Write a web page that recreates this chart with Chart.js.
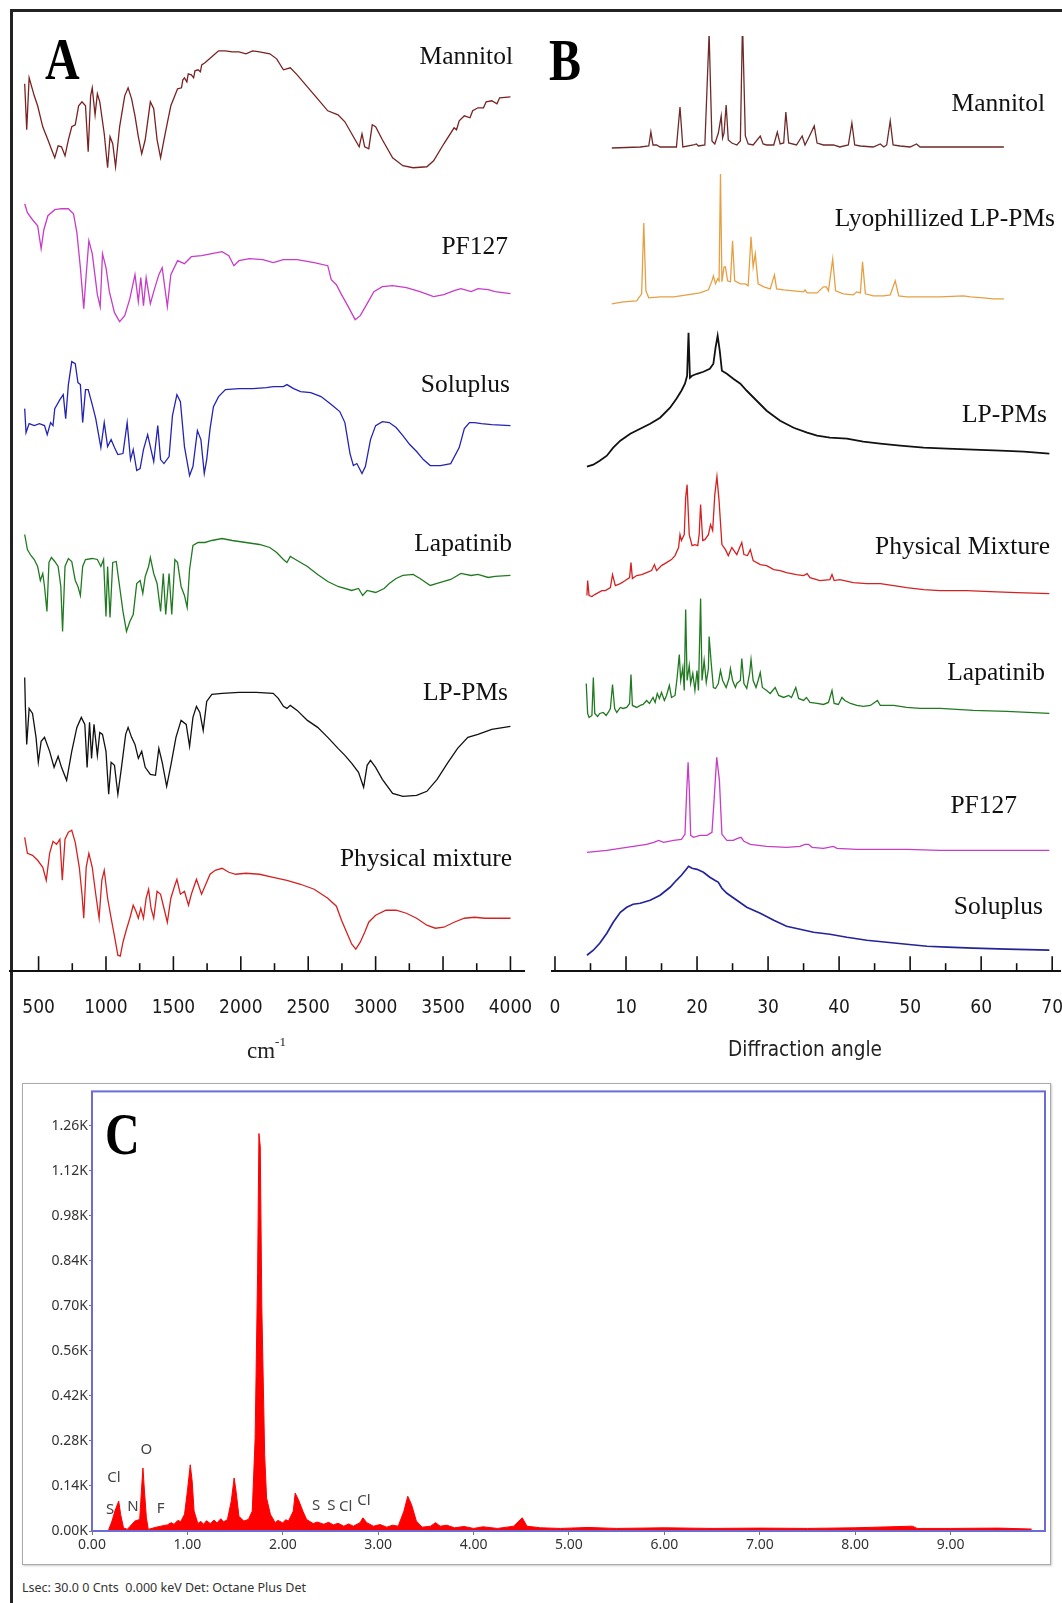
<!DOCTYPE html>
<html>
<head>
<meta charset="utf-8">
<script src="https://cdn.jsdelivr.net/npm/chart.js@4.4.0/dist/chart.umd.min.js"></script>
<style>
body { margin: 0; width: 1062px; height: 1603px; overflow: hidden; background: #fff; position: relative; }
canvas { position: absolute; }
.frame { position: absolute; left: 10px; top: 9px; width: 1062px; height: 1603px; border-top: 3px solid #222; border-left: 3px solid #222; }
.lbl { position: absolute; width: 400px; text-align: right; font-family: "Liberation Serif", serif; font-size: 25.5px; line-height: 1; color: #111; white-space: nowrap; }
.letter { position: absolute; font-family: "Liberation Serif", serif; font-weight: bold; font-size: 60px; line-height: 1; color: #000; transform: scaleX(0.8); transform-origin: left top; }
.axt { position: absolute; font-family: "DejaVu Sans Condensed", "DejaVu Sans", sans-serif; font-size: 21px; color: #222; white-space: nowrap; transform: scaleX(0.98); transform-origin: left top; }
.cm { position: absolute; font-family: "Liberation Serif", serif; font-size: 23px; color: #222; }
.cm sup { font-size: 13px; vertical-align: 12px; }
.cbox { position: absolute; left: 22px; top: 1083px; width: 1027px; height: 480px; border: 1px solid #aaa; box-shadow: 1px 1px 2px #ccc; }
.foot { position: absolute; left: 22px; top: 1579px; font-family: "Noto Sans", sans-serif; font-size: 12.5px; color: #333; white-space: pre; }
</style>
</head>
<body>
<div class="frame"></div>
<div class="cbox"></div>
<canvas id="chartA" width="578" height="1009"></canvas>
<canvas id="chartB" width="568" height="1009"></canvas>
<canvas id="chartC" width="1031" height="479"></canvas>

<div class="letter" style="left:45px;top:29px;">A</div>
<div class="letter" style="left:549px;top:30px;">B</div>
<div class="letter" style="left:105px;top:1104px;">C</div>

<div class="lbl" style="left:113px;top:43px;">Mannitol</div>
<div class="lbl" style="left:108px;top:233px;">PF127</div>
<div class="lbl" style="left:110px;top:371px;">Soluplus</div>
<div class="lbl" style="left:112px;top:530px;">Lapatinib</div>
<div class="lbl" style="left:108px;top:679px;">LP-PMs</div>
<div class="lbl" style="left:112px;top:845px;">Physical mixture</div>

<div class="lbl" style="left:645px;top:90px;">Mannitol</div>
<div class="lbl" style="left:655px;top:205px;">Lyophillized LP-PMs</div>
<div class="lbl" style="left:647px;top:401px;">LP-PMs</div>
<div class="lbl" style="left:650px;top:533px;">Physical Mixture</div>
<div class="lbl" style="left:645px;top:659px;">Lapatinib</div>
<div class="lbl" style="left:617px;top:792px;">PF127</div>
<div class="lbl" style="left:643px;top:893px;">Soluplus</div>

<div class="cm" style="left:247px;top:1034px;">cm<sup>-1</sup></div>
<div class="axt" style="left:728px;top:1037px;">Diffraction angle</div>
<div class="foot">Lsec: 30.0 0 Cnts  0.000 keV Det: Octane Plus Det</div>

<script>
// ---- FTIR spectra (panel A): [wavenumber cm-1, relative transmittance a.u.]
const irMannitol = [[397,84],[412,38],[430,90],[468,72],[493,62],[531,41],[569,28],[594,19],[620,10],[645,22],[670,21],[696,12],[721,28],[746,41],[772,43],[797,62],[822,66],[848,62],[868,16],[886,72],[898,80],[919,53],[936,74],[954,66],[987,34],[1012,0],[1030,31],[1050,24],[1071,1],[1101,41],[1139,72],[1164,80],[1190,69],[1215,52],[1240,31],[1265,14],[1291,28],[1329,66],[1354,59],[1379,28],[1405,10],[1430,28],[1455,45],[1481,62],[1531,79],[1560,80],[1570,88],[1582,90],[1600,86],[1610,94],[1633,93],[1650,90],[1660,97],[1683,98],[1700,96],[1710,103],[1734,105],[1785,111],[1835,117],[1886,117],[1936,116],[1987,116],[2038,114],[2088,117],[2139,116],[2215,114],[2266,109],[2316,98],[2367,100],[2418,93],[2494,81],[2570,69],[2645,57],[2721,53],[2772,46],[2848,28],[2878,21],[2899,34],[2919,21],[2949,19],[2975,43],[3000,41],[3050,28],[3126,10],[3202,2],[3278,0],[3380,1],[3430,7],[3506,24],[3582,40],[3600,38],[3620,47],[3658,52],[3700,50],[3720,57],[3759,60],[3800,60],[3820,66],[3861,67],[3900,64],[3920,70],[4000,71]];
const irPF127 = [[397,119],[417,110],[455,103],[493,97],[519,74],[539,93],[569,107],[620,113],[670,114],[721,114],[759,109],[784,90],[810,55],[835,14],[853,48],[873,82],[898,69],[936,28],[957,16],[974,69],[1000,55],[1025,31],[1063,10],[1101,1],[1139,7],[1177,24],[1215,48],[1240,21],[1258,45],[1278,17],[1298,45],[1329,19],[1354,31],[1392,48],[1417,55],[1455,16],[1481,48],[1531,62],[1582,59],[1633,66],[1709,67],[1785,69],[1861,71],[1911,67],[1949,57],[1987,62],[2063,64],[2164,63],[2240,60],[2316,63],[2418,63],[2544,60],[2645,57],[2671,43],[2709,38],[2747,28],[2797,16],[2848,3],[2886,7],[2937,19],[2987,31],[3050,36],[3126,37],[3228,35],[3329,31],[3430,26],[3506,28],[3582,32],[3633,34],[3709,31],[3759,34],[3835,33],[3886,31],[4000,29]];
const irSoluplus = [[397,67],[407,43],[430,52],[468,50],[506,52],[544,50],[564,41],[589,53],[607,50],[620,67],[658,76],[683,81],[701,57],[721,91],[746,114],[772,112],[792,93],[810,91],[827,53],[848,86],[868,86],[898,71],[924,57],[962,28],[987,53],[1012,29],[1038,36],[1063,28],[1088,21],[1126,22],[1157,53],[1182,16],[1202,26],[1228,5],[1253,7],[1278,26],[1309,41],[1329,29],[1354,14],[1384,50],[1405,16],[1430,12],[1468,19],[1493,60],[1526,81],[1552,74],[1582,29],[1620,0],[1645,9],[1678,45],[1704,36],[1729,2],[1747,16],[1772,47],[1797,69],[1835,79],[1886,86],[1987,87],[2088,87],[2190,88],[2240,89],[2316,89],[2342,91],[2392,87],[2443,84],[2519,83],[2595,79],[2671,71],[2734,64],[2772,53],[2810,22],[2835,10],[2861,12],[2899,2],[2924,9],[2962,36],[3000,50],[3050,54],[3101,53],[3152,48],[3202,40],[3253,31],[3304,24],[3354,16],[3405,10],[3481,10],[3557,12],[3620,28],[3658,47],[3696,53],[3734,53],[3785,52],[3861,51],[4000,50]];
const irLapatinib = [[397,99],[417,84],[443,78],[468,74],[493,67],[513,53],[531,60],[544,47],[562,22],[577,71],[595,76],[620,72],[645,67],[665,47],[678,2],[696,67],[721,75],[746,72],[772,53],[792,47],[810,38],[827,67],[848,74],[898,75],[936,74],[962,67],[982,74],[1000,17],[1012,67],[1030,16],[1050,71],[1076,72],[1101,47],[1126,22],[1152,2],[1177,12],[1202,19],[1228,50],[1253,53],[1273,40],[1291,57],[1316,67],[1329,76],[1354,60],[1379,50],[1405,22],[1425,60],[1443,19],[1468,60],[1488,19],[1511,74],[1531,71],[1557,47],[1582,38],[1602,26],[1620,64],[1645,88],[1683,91],[1734,91],[1785,93],[1861,95],[1936,93],[2038,91],[2139,89],[2215,86],[2266,81],[2316,74],[2342,71],[2367,77],[2418,73],[2494,67],[2570,59],[2645,52],[2721,47],[2823,43],[2873,45],[2904,38],[2937,43],[3000,41],[3063,45],[3101,50],[3152,55],[3202,58],[3278,59],[3329,55],[3405,48],[3456,50],[3557,54],[3633,60],[3709,58],[3759,59],[3835,56],[3886,57],[4000,58]];
const irLPPMs = [[397,119],[402,90],[412,52],[430,88],[455,83],[481,59],[498,34],[519,55],[544,59],[582,45],[615,29],[645,40],[670,29],[708,16],[746,45],[784,69],[817,79],[843,72],[860,29],[878,74],[893,38],[911,72],[936,41],[954,64],[974,62],[1000,45],[1020,2],[1038,34],[1063,31],[1088,2],[1114,28],[1146,62],[1164,69],[1190,59],[1215,52],[1240,38],[1265,45],[1291,29],[1329,22],[1367,21],[1392,48],[1417,34],[1450,10],[1481,31],[1519,59],[1557,76],[1595,72],[1620,50],[1645,79],[1671,90],[1696,84],[1721,66],[1747,95],[1785,102],[1861,103],[1987,104],[2114,104],[2240,103],[2278,98],[2316,90],[2342,88],[2367,91],[2418,86],[2494,76],[2570,69],[2645,59],[2721,48],[2772,41],[2823,33],[2873,24],[2911,9],[2937,31],[2962,36],[3000,29],[3050,17],[3126,3],[3202,0],[3304,1],[3380,5],[3456,17],[3532,33],[3608,48],[3684,59],[3759,62],[3861,67],[4000,70]];
const irPhysMix = [[397,121],[417,105],[455,103],[493,98],[531,91],[557,78],[582,105],[607,117],[633,114],[658,119],[676,78],[696,119],[721,126],[746,128],[772,116],[802,91],[822,64],[835,40],[853,91],[873,105],[898,91],[924,64],[949,40],[969,78],[987,88],[1012,60],[1038,40],[1063,22],[1088,3],[1106,2],[1126,16],[1152,29],[1177,40],[1202,53],[1222,47],[1240,40],[1258,50],[1278,40],[1298,60],[1316,69],[1334,50],[1354,40],[1379,67],[1405,64],[1430,50],[1455,36],[1481,60],[1506,71],[1526,79],[1552,64],[1582,67],[1612,53],[1633,64],[1671,79],[1709,64],[1734,72],[1772,84],[1810,88],[1861,90],[1911,86],[1962,84],[2038,85],[2139,84],[2240,81],[2342,78],[2443,74],[2544,69],[2645,60],[2709,52],[2747,38],[2785,26],[2823,14],[2853,9],[2886,16],[2919,26],[2949,36],[3000,43],[3076,48],[3152,48],[3228,45],[3304,40],[3380,33],[3443,30],[3506,31],[3582,36],[3658,40],[3734,41],[3810,40],[3886,40],[4000,40]];

// ---- XRD patterns (panel B): [2-theta deg, relative intensity a.u.]
const xrdMannitol = [[8.0,0],[12.0,1],[13.2,2],[13.5,16],[13.8,3],[14.3,3],[14.8,1],[17.1,1],[17.6,41],[18.0,1],[19.5,3],[19.9,4],[20.2,2],[21.1,3],[21.7,115],[22.1,7],[22.5,4],[23.0,15],[23.4,32],[23.6,10],[23.8,15],[24.1,43],[24.4,8],[24.9,5],[25.6,3],[26.1,7],[26.4,126],[26.8,12],[27.2,4],[27.9,3],[28.9,12],[29.3,4],[29.8,3],[30.8,3],[31.3,16],[31.7,4],[32.2,5],[32.5,36],[32.9,5],[34.0,3],[34.8,12],[35.2,3],[35.7,10],[36.5,22],[36.9,5],[37.8,3],[39.2,3],[40.1,1],[41.3,3],[41.8,25],[42.2,3],[43.0,2],[44.8,1],[45.8,4],[46.3,1],[46.7,3],[47.2,27],[47.6,3],[48.6,2],[50.0,1],[50.9,4],[51.4,1],[54.2,1],[56.6,1],[58.9,1],[60.8,1],[63.2,1]];
const xrdLyo = [[8.0,0],[9.6,2],[11.5,3],[12.2,10],[12.5,81],[12.8,13],[13.2,6],[14.8,7],[16.7,7],[18.6,9],[20.4,11],[21.6,14],[22.1,23],[22.3,28],[22.6,20],[22.9,25],[23.1,23],[23.3,130],[23.5,22],[23.8,37],[24.0,37],[24.3,23],[24.7,22],[25.0,63],[25.3,23],[26.1,20],[26.8,20],[27.2,18],[27.6,67],[27.9,37],[28.2,50],[28.6,20],[29.4,17],[30.3,15],[30.9,29],[31.2,15],[32.2,14],[33.6,13],[35.0,12],[35.2,14],[35.5,11],[36.9,11],[37.8,17],[38.2,17],[38.5,13],[39.1,45],[39.5,13],[40.6,10],[42.0,9],[42.5,12],[43.0,11],[43.3,42],[43.7,10],[44.8,8],[46.3,8],[47.2,9],[47.9,23],[48.4,8],[49.5,7],[51.9,7],[54.2,7],[57.5,8],[58.5,7],[60.3,6],[61.7,5],[63.2,5]];
const xrdLPPMs = [[4.5,0],[5.4,2],[6.3,6],[7.3,11],[8.2,19],[9.2,26],[10.6,33],[12.0,38],[13.4,43],[14.8,49],[16.2,59],[17.1,68],[17.8,76],[18.3,83],[18.6,91],[18.8,134],[19.0,89],[19.3,91],[20.0,93],[20.9,95],[21.8,98],[22.3,103],[22.6,119],[22.9,131],[23.2,116],[23.5,96],[24.2,93],[25.1,88],[26.1,83],[27.0,76],[28.4,66],[29.8,56],[31.7,46],[33.6,39],[35.5,34],[36.9,31],[38.7,29],[41.1,28],[43.4,25],[45.8,23],[48.6,21],[51.9,19],[55.2,18],[58.9,17],[62.7,16],[66.0,15],[69.6,13]];
const xrdPhysMix = [[4.5,2],[4.6,17],[4.8,2],[5.2,1],[5.6,3],[6.1,5],[6.6,7],[7.1,7],[7.8,10],[8.1,23],[8.5,12],[9.2,14],[9.9,17],[10.5,20],[10.7,35],[10.9,19],[11.5,22],[12.2,23],[12.9,25],[13.6,27],[14.0,33],[14.3,27],[15.0,32],[15.7,35],[16.4,38],[16.9,42],[17.4,50],[17.6,63],[17.8,57],[18.2,63],[18.4,100],[18.6,113],[18.9,63],[19.3,52],[19.7,53],[20.1,52],[20.3,63],[20.5,93],[20.8,57],[21.1,58],[21.6,63],[21.9,73],[22.2,67],[22.5,103],[22.8,121],[23.1,97],[23.5,53],[24.0,48],[24.4,42],[24.9,50],[25.6,43],[26.0,50],[26.3,55],[26.6,43],[27.1,42],[27.5,48],[27.9,37],[28.9,33],[29.8,32],[30.8,28],[31.7,27],[32.6,25],[34.0,23],[35.0,22],[35.5,24],[35.9,20],[37.3,17],[38.7,18],[39.0,23],[39.3,17],[40.1,18],[42.0,15],[43.9,14],[45.8,14],[47.7,12],[49.5,10],[51.9,8],[54.2,7],[58.0,7],[61.3,6],[65.0,5],[69.6,4]];
const xrdLapatinib = [[4.4,34],[4.6,4],[4.8,0],[5.2,2],[5.4,40],[5.6,4],[6.0,1],[6.3,4],[6.8,5],[7.2,2],[7.5,5],[7.8,9],[8.1,33],[8.4,9],[8.7,5],[9.2,10],[9.6,9],[10.1,10],[10.5,14],[10.7,43],[10.9,12],[11.5,10],[12.0,12],[12.4,13],[12.9,17],[13.3,14],[13.8,20],[14.1,15],[14.4,24],[14.7,19],[15.0,25],[15.4,17],[15.7,22],[16.1,32],[16.4,20],[16.9,22],[17.2,40],[17.5,63],[17.7,37],[18.0,50],[18.2,27],[18.4,108],[18.6,37],[18.9,52],[19.1,34],[19.4,44],[19.7,27],[20.0,47],[20.2,27],[20.5,119],[20.7,37],[21.0,57],[21.3,35],[21.6,49],[21.7,81],[22.0,54],[22.3,30],[22.6,29],[23.0,34],[23.3,47],[23.6,37],[24.1,30],[24.5,39],[24.7,49],[25.0,37],[25.4,30],[25.6,34],[26.1,37],[26.3,59],[26.6,34],[27.0,29],[27.4,44],[27.6,58],[27.9,37],[28.3,30],[28.6,37],[28.9,45],[29.2,30],[29.8,27],[30.3,24],[31.0,30],[31.5,22],[32.2,20],[32.9,22],[33.3,20],[33.9,30],[34.3,19],[35.0,17],[35.4,20],[35.9,15],[36.9,14],[37.8,13],[38.5,15],[39.0,27],[39.3,14],[39.9,13],[40.4,20],[40.8,17],[41.6,14],[42.5,12],[43.4,11],[44.4,12],[44.8,14],[45.4,17],[45.8,12],[47.7,12],[49.5,10],[51.4,9],[54.2,9],[58.9,7],[63.6,6],[69.6,4]];
const xrdPF127 = [[4.5,0],[7.3,2],[10.1,5],[12.9,8],[13.9,10],[14.6,12],[15.3,10],[16.7,12],[17.8,13],[18.3,18],[18.55,62],[18.74,90],[18.92,62],[19.1,17],[19.5,15],[20.4,17],[21.4,17],[22.1,20],[22.4,52],[22.77,95],[23.15,72],[23.5,18],[24.2,12],[25.1,12],[25.7,14],[26.2,15],[26.6,11],[27.5,8],[29.8,6],[32.6,5],[34.5,6],[35.2,8],[35.7,8],[36.2,5],[37.8,4],[39.2,6],[39.7,4],[42.5,3],[44.8,3],[49.5,3],[54.2,2],[58.9,2],[63.6,2],[69.6,2]];
const xrdSoluplus = [[4.5,0],[5.4,5],[6.3,12],[7.3,22],[8.2,33],[9.2,43],[10.1,48],[11.0,51],[12.0,52],[13.4,55],[14.8,60],[16.2,68],[17.1,75],[17.8,80],[18.6,87],[18.8,89],[19.3,87],[20.0,86],[20.9,83],[21.8,78],[22.5,75],[23.0,73],[23.5,67],[24.2,62],[25.6,55],[27.0,48],[28.9,42],[30.8,35],[32.6,29],[34.5,26],[36.4,23],[38.7,21],[41.1,18],[43.9,15],[46.7,13],[49.5,11],[52.4,9],[55.2,8],[58.9,7],[63.6,6],[69.6,5]];

// ---- EDS spectrum (panel C): [energy keV, counts]
const edsSpectrum = [[0,0],[0.17,0],[0.21,31],[0.24,62],[0.28,93],[0.30,52],[0.33,10],[0.37,5],[0.40,15],[0.45,31],[0.50,36],[0.52,134],[0.534,196],[0.55,124],[0.57,41],[0.59,5],[0.65,10],[0.72,15],[0.79,19],[0.83,26],[0.86,21],[0.90,33],[0.93,29],[0.97,52],[1.00,124],[1.03,206],[1.05,155],[1.07,62],[1.11,23],[1.14,30],[1.17,21],[1.20,32],[1.24,23],[1.28,34],[1.31,25],[1.35,38],[1.38,28],[1.42,36],[1.46,93],[1.49,165],[1.51,124],[1.54,46],[1.59,31],[1.64,36],[1.68,62],[1.71,288],[1.736,803],[1.75,1236],[1.764,1195],[1.78,700],[1.81,237],[1.83,103],[1.87,52],[1.92,26],[1.95,33],[2.00,25],[2.03,35],[2.06,31],[2.11,62],[2.13,118],[2.17,93],[2.21,62],[2.25,36],[2.28,30],[2.32,23],[2.36,28],[2.43,21],[2.48,27],[2.53,19],[2.58,24],[2.64,15],[2.69,22],[2.74,15],[2.81,26],[2.84,41],[2.88,26],[2.95,15],[3.02,20],[3.09,12],[3.15,18],[3.21,15],[3.27,62],[3.31,108],[3.35,82],[3.40,31],[3.46,12],[3.55,15],[3.60,26],[3.65,15],[3.72,18],[3.80,10],[3.90,14],[4.00,8],[4.10,13],[4.25,8],[4.35,12],[4.42,15],[4.51,41],[4.56,15],[4.70,10],[4.91,8],[5.20,11],[5.5,8],[6.0,10],[6.5,8],[7.0,9],[7.5,8],[8.0,10],[8.6,15],[8.65,8],[9.0,8],[9.5,9],[9.85,6]];
const elemNames = ['Cl', 'O', 'S', 'N', 'F', 'S', 'S', 'Cl', 'Cl'];
const elemKeV = [0.23, 0.57, 0.19, 0.43, 0.72, 2.35, 2.51, 2.66, 2.85];
const elemCounts = [167, 254, 67, 74, 70, 80, 80, 77, 93];

// layout: vertical stacking of the traces (baseline height above the axis, px)
const stackA = [
    { data: irMannitol, color: '#7a2222', off: 804, w: 1.3 },
    { data: irPF127, color: '#c83cc8', off: 649, w: 1.3 },
    { data: irSoluplus, color: '#2424b4', off: 496, w: 1.3 },
    { data: irLapatinib, color: '#217a21', off: 338, w: 1.3 },
    { data: irLPPMs, color: '#111111', off: 175, w: 1.3 },
    { data: irPhysMix, color: '#d42222', off: 13, w: 1.3 }
];
const stackB = [
    { data: xrdMannitol, color: '#6e2a2a', off: 824, w: 1.3 },
    { data: xrdLyo, color: '#e6a043', off: 668, w: 1.3 },
    { data: xrdLPPMs, color: '#111111', off: 505, w: 1.8 },
    { data: xrdPhysMix, color: '#d42222', off: 374, w: 1.3 },
    { data: xrdLapatinib, color: '#217a21', off: 254, w: 1.3 },
    { data: xrdPF127, color: '#c83cc8', off: 119, w: 1.3 },
    { data: xrdSoluplus, color: '#24249a', off: 16, w: 1.7 }
];

const narrowFont = '"DejaVu Sans Condensed", "Liberation Sans Narrow", sans-serif';

// tick marks pointing up into the plot, long on labelled ticks
const innerTicks = {
    id: 'innerTicks',
    afterDraw(chart, args, opts) {
        const sx = chart.scales.x;
        const ctx = chart.ctx;
        const y0 = chart.chartArea.bottom;
        ctx.save();
        ctx.strokeStyle = '#111';
        ctx.lineWidth = 1.6;
        sx.ticks.forEach(t => {
            const px = sx.getPixelForValue(t.value);
            const len = (Math.abs(t.value % opts.major) < 1e-6) ? 15 : 8;
            ctx.beginPath();
            ctx.moveTo(px, y0);
            ctx.lineTo(px, y0 - len);
            ctx.stroke();
        });
        ctx.restore();
    }
};

const plotFrame = {
    id: 'plotFrame',
    afterDraw(chart) {
        const ca = chart.chartArea;
        const ctx = chart.ctx;
        ctx.save();
        ctx.strokeStyle = '#6c6cd6';
        ctx.lineWidth = 2;
        ctx.strokeRect(ca.left, ca.top, ca.right - ca.left, ca.bottom - ca.top);
        ctx.restore();
    }
};

const elemLabels = {
    id: 'elemLabels',
    afterDatasetsDraw(chart) {
        const ctx = chart.ctx;
        const sx = chart.scales.x, sy = chart.scales.y;
        ctx.save();
        ctx.font = '15px "Noto Sans", sans-serif';
        ctx.fillStyle = '#444';
        ctx.textAlign = 'center';
        ctx.textBaseline = 'middle';
        elemNames.forEach((n, i) => {
            ctx.fillText(n, sx.getPixelForValue(elemKeV[i]), sy.getPixelForValue(elemCounts[i]));
        });
        ctx.restore();
    }
};

function stackedChart(id, stack, xmin, xmax, step, major) {
    return new Chart(document.getElementById(id), {
        type: 'line',
        data: {
            datasets: stack.map(s => ({
                data: s.data.map(p => [p[0], p[1] + s.off]),
                borderColor: s.color,
                borderWidth: s.w,
                pointRadius: 0,
                tension: 0,
                fill: false
            }))
        },
        options: {
            responsive: false,
            animation: false,
            events: [],
            layout: { padding: { left: 30, right: 30, top: 0, bottom: 0 } },
            plugins: { legend: { display: false }, tooltip: { enabled: false }, innerTicks: { major: major } },
            scales: {
                x: {
                    type: 'linear',
                    min: xmin,
                    max: xmax,
                    grid: { display: false, drawTicks: false },
                    border: { display: true, color: '#111', width: 2 },
                    ticks: {
                        stepSize: step,
                        includeBounds: false,
                        autoSkip: false,
                        maxRotation: 0,
                        padding: 25,
                        color: '#1a1a1a',
                        font: { family: narrowFont, size: 19 },
                        callback: v => (Math.abs(v % major) < 1e-6 ? String(v) : '')
                    }
                },
                y: { display: false, min: 0, max: 960 }
            }
        },
        plugins: [innerTicks]
    });
}

// put the plot area where the figure has it
function pin(chart, left, bottom, fixHeight) {
    const ca = chart.chartArea;
    chart.canvas.style.left = (left - ca.left) + 'px';
    chart.canvas.style.top = (bottom - ca.bottom) + 'px';
    if (fixHeight) {
        chart.options.scales.y.max = ca.bottom - ca.top;
        chart.update('none');
    }
}

const chartA = stackedChart('chartA', stackA, 288, 4103, 250, 500);
pin(chartA, 10, 971, true);
const chartB = stackedChart('chartB', stackB, -0.42, 71.1, 5, 10);
pin(chartB, 552, 971, true);

const chartC = new Chart(document.getElementById('chartC'), {
    type: 'line',
    data: {
        datasets: [{
            data: edsSpectrum,
            borderColor: '#ff0000',
            backgroundColor: '#ff0000',
            borderWidth: 1,
            pointRadius: 0,
            tension: 0,
            fill: 'origin'
        }]
    },
    options: {
        responsive: false,
        animation: false,
        events: [],
        layout: { padding: { left: 0, right: 8, top: 5, bottom: 0 } },
        plugins: { legend: { display: false }, tooltip: { enabled: false } },
        scales: {
            x: {
                type: 'linear',
                min: 0,
                max: 9.99,
                afterFit: s => { s.height = 30; },
                grid: { drawOnChartArea: false, drawTicks: true, tickLength: 4, color: '#777' },
                border: { display: false },
                ticks: {
                    stepSize: 1,
                    includeBounds: false,
                    padding: 2,
                    color: '#333',
                    font: { family: '"Noto Sans", sans-serif', size: 14 },
                    callback: v => v.toFixed(2)
                }
            },
            y: {
                min: 0,
                max: 1367,
                afterFit: s => { s.width = 70; },
                grid: { drawOnChartArea: false, drawTicks: true, tickLength: 3, color: '#777' },
                border: { display: false },
                ticks: {
                    stepSize: 140,
                    includeBounds: false,
                    padding: 1,
                    color: '#333',
                    font: { family: '"Noto Sans", sans-serif', size: 14 },
                    callback: v => (v / 1000).toFixed(2) + 'K'
                }
            }
        }
    },
    plugins: [plotFrame, elemLabels]
});
pin(chartC, 92, 1531, false);
</script>
</body>
</html>
